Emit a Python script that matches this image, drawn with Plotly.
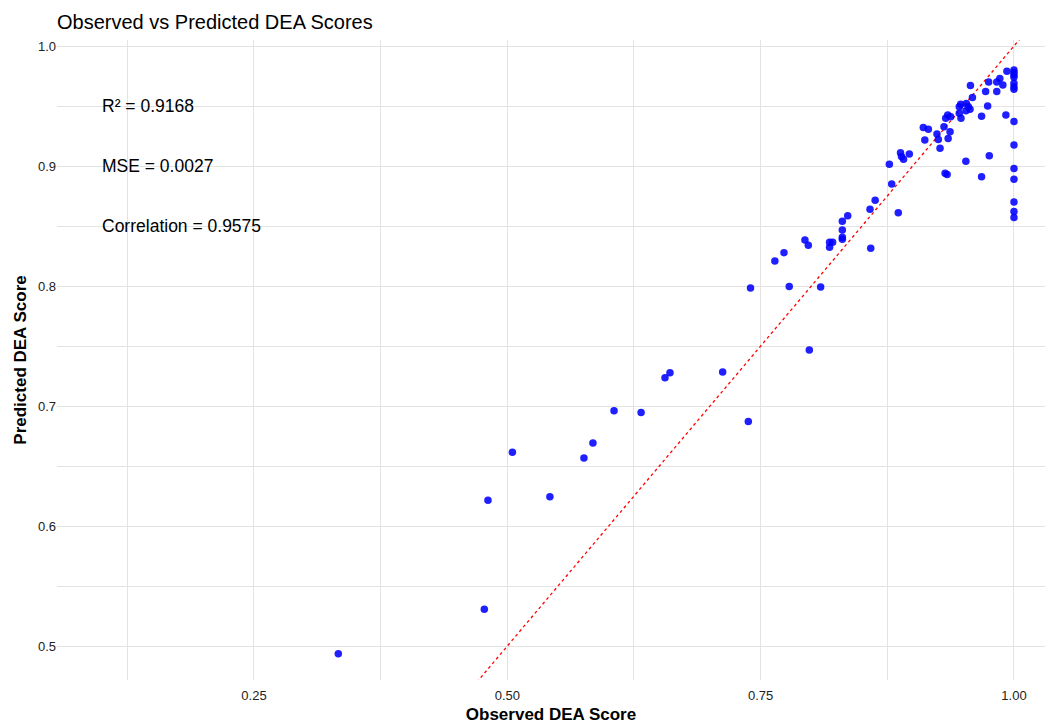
import plotly.graph_objects as go

# Observed (DEA) and model-predicted efficiency scores
observed = [
    1.000, 1.000, 1.000, 1.000, 1.000, 1.000, 1.000, 1.000, 1.000, 1.000,
    1.000, 1.000, 1.000, 1.000,
    0.993, 0.986, 0.983, 0.989, 0.975, 0.957, 0.972, 0.983, 0.959, 0.974,
    0.968, 0.992, 0.9525, 0.9756, 0.968, 0.932, 0.934,
    0.9474, 0.946, 0.953, 0.955, 0.9566, 0.9526, 0.946, 0.9477, 0.9346,
    0.9375, 0.9326,
    0.9105, 0.9155, 0.9309, 0.9369, 0.924, 0.912, 0.9253, 0.935, 0.927,
    0.888, 0.889, 0.891, 0.8967, 0.877, 0.8793, 0.863, 0.8579, 0.8858,
    0.8586,
    0.8359, 0.8306, 0.8306, 0.8306, 0.8306, 0.7937, 0.797, 0.818, 0.821,
    0.818, 0.773, 0.764, 0.740, 0.7782, 0.8092, 0.798, 0.7125, 0.6556,
    0.6605, 0.632, 0.6053, 0.7378, 0.505, 0.5845, 0.5756, 0.4809, 0.542,
    0.4773, 0.3332,
]
predicted = [
    0.980, 0.978, 0.976, 0.974, 0.969, 0.966, 0.964, 0.937, 0.9175, 0.898,
    0.889, 0.870, 0.862, 0.857,
    0.979, 0.973, 0.970, 0.9675, 0.970, 0.967, 0.962, 0.962, 0.957, 0.950,
    0.9415, 0.9425, 0.904, 0.9086, 0.891, 0.894, 0.893,
    0.9514, 0.9494, 0.952, 0.9494, 0.9472, 0.946, 0.9439, 0.9397, 0.9425,
    0.941, 0.9397,
    0.932, 0.9306, 0.9328, 0.9286, 0.9267, 0.9217, 0.922, 0.923, 0.9147,
    0.911, 0.908, 0.9056, 0.910, 0.9014, 0.885, 0.8714, 0.864, 0.861,
    0.8314,
    0.8586, 0.854, 0.8467, 0.8406, 0.839, 0.8383, 0.834, 0.8364, 0.8364,
    0.8322, 0.8278, 0.8208, 0.7983, 0.7997, 0.7992, 0.7467, 0.7283, 0.7236,
    0.7278, 0.6947, 0.696, 0.687, 0.6614, 0.6692, 0.6567, 0.6214, 0.6244,
    0.5306, 0.4936,
]

# Fit statistics shown on the chart
stats_labels = ["R² = 0.9168", "MSE = 0.0027", "Correlation = 0.9575"]
stats_y = [0.95, 0.90, 0.85]
stats_x = 0.1

# Identity reference line (perfect prediction)
identity = [0.0, 1.2]

x_ticks = [0.25, 0.50, 0.75, 1.00]
x_tick_text = ["0.25", "0.50", "0.75", "1.00"]
y_ticks = [0.5, 0.6, 0.7, 0.8, 0.9, 1.0]
y_tick_text = ["0.5", "0.6", "0.7", "0.8", "0.9", "1.0"]

FONT = "Liberation Sans, Arial, sans-serif"
GRID = "#e3e3e3"

fig = go.Figure()

fig.add_trace(go.Scatter(
    x=identity, y=identity, mode="lines",
    line=dict(color="red", width=1.3, dash="3px,3px"),
    hoverinfo="skip", showlegend=False,
))

fig.add_trace(go.Scatter(
    x=observed, y=predicted, mode="markers",
    marker=dict(color="#0000ff", size=7.5, opacity=0.88, line=dict(width=0)),
    showlegend=False,
))

for label, yv in zip(stats_labels, stats_y):
    fig.add_annotation(
        x=stats_x, y=yv, xref="x", yref="y", text=label, showarrow=False,
        xanchor="left", yanchor="middle", xshift=-2,
        font=dict(family=FONT, size=17.5, color="black"),
    )

fig.update_layout(
    width=1045, height=725,
    margin=dict(l=57, r=0, t=40, b=45),
    paper_bgcolor="white", plot_bgcolor="white",
    font=dict(family=FONT),
    title=dict(
        text="Observed vs Predicted DEA Scores",
        x=57 / 1045, xref="container", xanchor="left",
        y=1 - 22 / 725, yref="container", yanchor="middle",
        font=dict(family=FONT, size=20, color="black"),
    ),
    xaxis=dict(
        range=[0.0556, 1.0306],
        tickvals=x_ticks, ticktext=x_tick_text,
        showgrid=True, gridcolor=GRID, gridwidth=1,
        minor=dict(tickvals=[0.125, 0.375, 0.625, 0.875], showgrid=True,
                   gridcolor=GRID, gridwidth=1),
        zeroline=False, showline=False, ticks="",
        ticklabelstandoff=6,
        tickfont=dict(family=FONT, size=13, color="#222222"),
        title=dict(text="<b>Observed DEA Score</b>", standoff=6,
                   font=dict(family=FONT, size=17, color="black")),
    ),
    yaxis=dict(
        range=[0.4717, 1.005],
        tickvals=y_ticks, ticktext=y_tick_text,
        showgrid=True, gridcolor=GRID, gridwidth=1,
        minor=dict(tickvals=[0.55, 0.65, 0.75, 0.85, 0.95], showgrid=True,
                   gridcolor=GRID, gridwidth=1),
        zeroline=False, showline=False, ticks="",
        tickfont=dict(family=FONT, size=13, color="#222222"),
        title=dict(text="<b>Predicted DEA Score</b>", standoff=6,
                   font=dict(family=FONT, size=17, color="black")),
    ),
)

fig.write_html("out.html")
